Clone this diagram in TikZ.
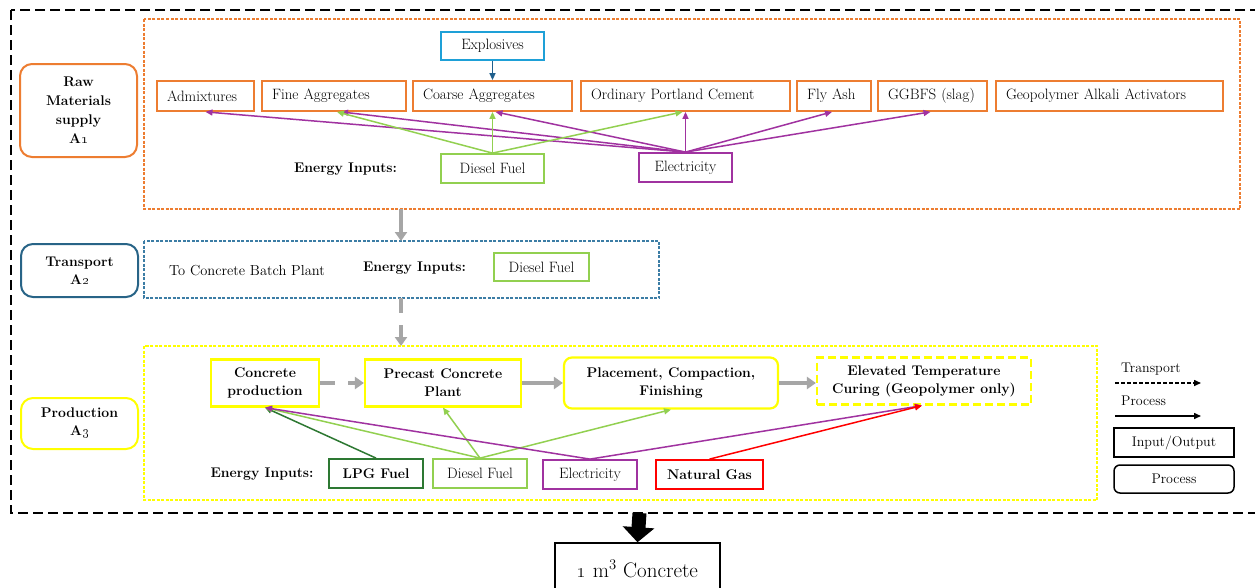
\documentclass[tikz,border=0pt]{standalone}
\usetikzlibrary{arrows.meta,calc}
\definecolor{orangeC}{RGB}{237,125,49}
\definecolor{blueL}{RGB}{30,160,215}
\definecolor{blueD}{RGB}{31,95,140}
\definecolor{transC}{RGB}{40,100,135}
\definecolor{transD}{RGB}{60,125,165}
\definecolor{greenL}{RGB}{146,208,80}
\definecolor{purpleC}{RGB}{160,50,160}
\definecolor{greenD}{RGB}{45,120,50}
\definecolor{redC}{RGB}{255,0,0}
\definecolor{yellowC}{RGB}{255,255,0}
\definecolor{grayC}{RGB}{166,166,166}
\newcommand\myfn{\fontsize{15}{18}\selectfont}
\newcommand\mybf{\fontsize{14}{18}\selectfont\bfseries}
\newcommand\mylg{\fontsize{14}{17}\selectfont}
\begin{document}
\begin{tikzpicture}[x=1pt,y=-1pt,
  obox/.style={draw=orangeC, line width=1.8pt, inner xsep=10pt, inner ysep=0pt, minimum height=30pt, align=left, font=\myfn},
  ebox/.style={draw, line width=1.8pt, inner sep=0pt, minimum height=29pt, font=\myfn},
  ybox/.style={draw=yellowC, line width=2.2pt, inner sep=0pt, align=center, font=\mybf},
  stage/.style={line width=2pt, rounded corners=12pt, inner sep=0pt, align=center, font=\mybf},
  region/.style={line width=1.2pt, dash pattern=on 3pt off 1.5pt},
  tip/.style={-{Triangle[length=7pt,width=6pt]}, line width=1.5pt},
  garrow/.style={grayC, line width=4pt, -{Triangle[length=9pt,width=12pt]}},
  lbl/.style={inner sep=0pt}
]
\useasboundingbox (0,0) rectangle (1255,587);
\clip (0,0) rectangle (1255,587);
\fill[white] (0,0) rectangle (1255,587);

% outer dashed frame
\draw[line width=2.6pt, dash pattern=on 10pt off 5pt] (11,10) rectangle (1265,513);

% ===== A1 =====
\draw[orangeC, region] (144,19) rectangle (1240,209);
\node[stage, draw=orangeC, minimum width=117pt, minimum height=93pt, font=\fontsize{14}{19}\selectfont\bfseries] (raw) at (78.5,110.5) {Raw\\Materials\\supply\\A\oldstylenums{1}};

\node[obox, text width=77pt] (adm) at (205.5,96) {Admixtures};
\node[obox, text width=124pt] (fine) at (334,96) {Fine Aggregates};
\node[obox, text width=139pt] (coarse) at (492.5,96) {Coarse Aggregates};
\node[obox, text width=189pt] (opc) at (685.5,96) {Ordinary Portland Cement};
\node[obox, text width=54pt] (fly) at (834,96) {Fly Ash};
\node[obox, text width=89pt] (ggbfs) at (932.5,96) {GGBFS (slag)};
\node[obox, text width=207pt] (geo) at (1109.5,96) {Geopolymer Alkali Activators};

\node[ebox, draw=blueL, minimum width=103pt, minimum height=28pt] (expl) at (492.5,46) {Explosives};
\node[lbl, font=\mybf] (ei1) at (345.5,169) {Energy Inputs:};
\node[ebox, draw=greenL, minimum width=103pt] (dsl1) at (492.5,168.5) {Diesel Fuel};
\node[ebox, draw=purpleC, minimum width=93pt] (ele1) at (685.5,167.5) {Electricity};

\draw[tip, blueD] (expl.south) -- (coarse.north);

\draw[tip, purpleC] (ele1.north) -- (adm.south);
\draw[tip, purpleC] (ele1.north) -- ($(fine.south)+(7,0)$);
\draw[tip, purpleC] (ele1.north) -- ($(coarse.south)+(3,0)$);
\draw[tip, purpleC] (ele1.north) -- (opc.south);
\draw[tip, purpleC] (ele1.north) -- ($(fly.south)+(-2,0)$);
\draw[tip, purpleC] (ele1.north) -- ($(ggbfs.south)+(-2,0)$);
\draw[tip, greenL] (dsl1.north) -- ($(fine.south)+(3,0)$);
\draw[tip, greenL] (dsl1.north) -- (coarse.south);
\draw[tip, greenL] (dsl1.north) -- ($(opc.south)+(-3,0)$);

% ===== A2 =====
\draw[transD, region] (144,241) rectangle (659,298);
\node[stage, draw=transC, minimum width=117pt, minimum height=53pt] (trans) at (79.5,270.5) {Transport\\A\oldstylenums{2}};
\node[lbl, font=\fontsize{14.5}{17}\selectfont] (tcb) at (247,271) {To Concrete Batch Plant};
\node[lbl, font=\mybf] (ei2) at (414.5,268) {Energy Inputs:};
\node[ebox, draw=greenL, minimum width=95pt, minimum height=28pt] (dsl2) at (541.5,267) {Diesel Fuel};

\coordinate (a1b) at (401,209);
\coordinate (a2t) at (401,241);
\coordinate (a2b) at (401,298);
\coordinate (a3t) at (401,346);
\draw[garrow] (a1b) -- (a2t);
\draw[garrow, dash pattern=on 15pt off 12pt] (a2b) -- (a3t);

% ===== A3 =====
\draw[yellowC, region] (144,346) rectangle (1097,500);
\node[stage, draw=yellowC, minimum width=117pt, minimum height=51pt] (prod) at (79.5,423.5) {Production\\A\oldstylenums{3}};

\node[ybox, minimum width=108pt, minimum height=47pt] (cp) at (265,383) {Concrete\\production};
\node[ybox, minimum width=156pt, minimum height=47pt] (pcp) at (443,383) {Precast Concrete\\Plant};
\node[ybox, rounded corners=8pt, minimum width=214pt, minimum height=51pt] (pl) at (671,383) {Placement, Compaction,\\Finishing};
\node[ybox, dash pattern=on 8pt off 4pt, minimum width=214pt, minimum height=47pt] (el) at (924,381) {Elevated Temperature\\Curing (Geopolymer only)};

\draw[garrow, dash pattern=on 15pt off 13pt] (cp.east) -- (pcp.west);
\draw[garrow] (pcp.east) -- (pcp.east -| pl.west);
\draw[garrow] (pl.east) -- (pl.east -| el.west);

\node[lbl, font=\mybf] (ei3) at (262,474) {Energy Inputs:};
\node[ebox, draw=greenD, minimum width=94pt, font=\mybf] (lpg) at (376,473.5) {LPG Fuel};
\node[ebox, draw=greenL, minimum width=94pt] (dsl3) at (480,473.5) {Diesel Fuel};
\node[ebox, draw=purpleC, minimum width=94pt] (ele3) at (590,474.5) {Electricity};
\node[ebox, draw=redC, minimum width=107pt, font=\mybf] (ng) at (709.5,474.5) {Natural Gas};

\draw[tip, greenD] (lpg.north) -- (cp.south);
\draw[tip, greenL] (dsl3.north) -- (cp.south);
\draw[tip, greenL] (dsl3.north) -- (pcp.south);
\draw[tip, greenL] (dsl3.north) -- (pl.south);
\draw[tip, purpleC] (ele3.north) -- (cp.south);
\draw[tip, purpleC] (ele3.north) -- ($(el.south)+(-2,0)$);
\draw[tip, redC] (ng.north) -- ($(el.south)+(-2,0)$);

% ===== Legend =====
\node[lbl, anchor=west, font=\mylg] (lt) at (1121,369) {Transport};
\coordinate (lt1) at (1115,383);
\coordinate (lt2) at (1201,383);
\draw[line width=1.5pt, dash pattern=on 4pt off 2pt, -{Triangle[length=7pt,width=6pt]}] (lt1) -- (lt2);
\node[lbl, anchor=west, font=\mylg] (lp) at (1121,401) {Process};
\coordinate (lp1) at (1115,416);
\coordinate (lp2) at (1201,416);
\draw[line width=1.5pt, -{Triangle[length=7pt,width=6pt]}] (lp1) -- (lp2);
\node[draw, line width=1.5pt, inner sep=0pt, minimum width=120pt, minimum height=29pt, font=\mylg] (lio) at (1174,442.5) {Input/Output};
\node[draw, line width=1.5pt, rounded corners=6pt, inner sep=0pt, minimum width=120pt, minimum height=28pt, font=\mylg] (lpr) at (1174,479) {Process};

% ===== Output =====
\node[draw, line width=1.5pt, inner sep=0pt, minimum width=165pt, minimum height=52pt, font=\fontsize{21}{24}\selectfont] (out) at (637.5,569) {\oldstylenums{1} m\textsuperscript{3} Concrete};
\coordinate (ob) at (639.5,513);
\draw[line width=14pt, -{Triangle[length=15pt,width=31pt]}] (ob) -- (out.north);
\end{tikzpicture}
\end{document}
